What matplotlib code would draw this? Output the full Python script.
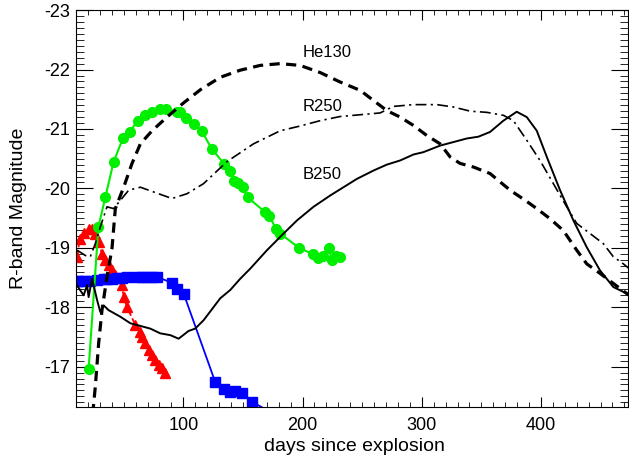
import matplotlib
matplotlib.use('Agg')
import matplotlib.pyplot as plt
from matplotlib.ticker import MultipleLocator

plt.rcParams['font.family'] = ['Liberation Sans', 'DejaVu Sans']

# observed SNe (points)
green_t = [20.6, 28.8, 34.6, 41.6, 49.5, 55.0, 61.7, 68.1, 74.0, 80.7, 85.7, 94.7, 97.5,
           102.5, 108.7, 115.7, 123.7, 134.4, 139.4, 142.2, 145.8, 149.7, 153.9, 168.7,
           172.3, 178.0, 181.3, 197.0, 209.2, 212.6, 217.6, 221.8, 224.6, 228.2, 231.6]
green_m = [-16.96, -19.35, -19.85, -20.45, -20.85, -20.95, -21.14, -21.24, -21.29, -21.34,
           -21.34, -21.29, -21.28, -21.19, -21.08, -20.96, -20.67, -20.41, -20.30, -20.12,
           -20.09, -20.02, -19.85, -19.60, -19.53, -19.31, -19.24, -19.00, -18.89, -18.82,
           -18.87, -18.99, -18.80, -18.87, -18.84]

red_t = [11.0, 13.1, 17.0, 20.6, 23.5, 26.2, 29.0, 31.8, 34.6, 37.4, 40.2, 43.0, 48.6, 50.0,
         52.8, 59.8, 64.0, 65.4, 68.1, 70.9, 73.8, 76.5, 79.3, 82.1, 84.9]
red_m = [-18.85, -19.15, -19.25, -19.31, -19.32, -19.24, -19.10, -18.90, -18.79, -18.71,
         -18.62, -18.55, -18.37, -18.17, -18.00, -17.70, -17.58, -17.50, -17.39, -17.28,
         -17.19, -17.11, -17.03, -16.97, -16.89]

blue_t = [10.5, 12.2, 17.9, 22.0, 27.7, 33.2, 36.0, 40.2, 44.4, 48.6, 52.8, 61.2, 65.4, 69.6,
          73.8, 78.0, 90.5, 94.7, 100.3, 126.8, 133.8, 139.4, 143.6, 149.2, 157.6, 185.0]
blue_m = [-18.44, -18.44, -18.44, -18.44, -18.45, -18.47, -18.48, -18.48, -18.50, -18.50,
          -18.51, -18.51, -18.51, -18.51, -18.51, -18.51, -18.41, -18.31, -18.23, -16.74,
          -16.62, -16.58, -16.59, -16.55, -16.41, -16.10]

# models
b250_t = [10.8, 16.4, 19.3, 20.6, 23.5, 27.7, 30.4, 33.2, 37.4, 47.2, 55.6, 61.2, 72.3, 80.7,
          89.1, 96.1, 104.4, 110.0, 117.0, 131.0, 139.4, 147.8, 156.2, 170.2, 184.1, 195.3,
          209.2, 223.2, 234.4, 245.6, 259.5, 270.7, 281.9, 293.0, 301.4, 315.4, 326.6, 337.8,
          347.5, 357.3, 368.5, 379.7, 388.1, 396.5, 404.9, 416.0, 427.2, 438.4, 449.5, 460.7,
          472.0, 480.0]
b250_m = [-18.37, -18.20, -18.37, -18.17, -18.48, -18.12, -17.92, -18.03, -17.95, -17.84,
          -17.73, -17.70, -17.64, -17.56, -17.53, -17.47, -17.60, -17.64, -17.78, -18.15,
          -18.29, -18.48, -18.65, -18.96, -19.24, -19.46, -19.69, -19.88, -20.02, -20.16,
          -20.30, -20.40, -20.47, -20.57, -20.61, -20.72, -20.78, -20.84, -20.87, -20.95,
          -21.14, -21.29, -21.20, -20.97, -20.53, -19.97, -19.46, -19.01, -18.62, -18.34,
          -18.23, -18.15]

he130_t = [24.0, 26.2, 29.0, 31.8, 36.0, 40.2, 43.0, 50.0, 57.0, 64.0, 73.8, 86.3, 100.3,
           114.3, 131.0, 147.8, 164.5, 181.3, 198.0, 214.8, 231.6, 248.4, 259.5, 270.7,
           281.9, 293.0, 304.3, 315.4, 323.8, 332.2, 343.3, 357.3, 374.1, 386.7, 396.5,
           407.6, 418.8, 430.0, 438.4, 449.5, 460.7, 472.0, 480.0]
he130_m = [-16.20, -16.66, -17.39, -17.95, -18.51, -18.99, -19.66, -20.02, -20.42, -20.75,
           -20.97, -21.20, -21.44, -21.66, -21.87, -21.99, -22.07, -22.10, -22.07, -21.95,
           -21.79, -21.65, -21.48, -21.31, -21.20, -21.06, -20.89, -20.75, -20.53, -20.42,
           -20.36, -20.25, -19.97, -19.80, -19.66, -19.49, -19.29, -18.96, -18.73, -18.57,
           -18.40, -18.23, -18.12]

r250_t = [10.9, 17.9, 22.0, 26.2, 30.4, 36.0, 41.6, 54.2, 64.0, 75.1, 90.5, 103.1, 117.0,
          136.6, 158.9, 181.3, 198.0, 214.8, 231.6, 248.4, 265.1, 276.3, 293.0, 312.7,
          326.6, 340.6, 354.6, 368.5, 376.9, 388.1, 399.2, 410.4, 421.6, 430.0, 441.2,
          452.3, 460.7, 469.1, 480.0]
r250_m = [-18.96, -18.87, -18.85, -19.07, -19.35, -19.69, -19.66, -19.97, -20.02, -19.94,
          -19.83, -19.91, -20.08, -20.45, -20.75, -20.97, -21.05, -21.14, -21.21, -21.24,
          -21.27, -21.38, -21.41, -21.41, -21.37, -21.30, -21.28, -21.23, -21.14, -20.81,
          -20.47, -20.08, -19.69, -19.41, -19.24, -19.07, -18.85, -18.73, -18.55]

labels = ['He130', 'R250', 'B250']
label_y = [-22.28, -21.38, -20.24]

ymajor = [-23, -22, -21, -20, -19, -18, -17]

fig = plt.figure(figsize=(6.29, 4.62), dpi=100)
ax = fig.add_axes([0.1208, 0.119, 0.8776, 0.859])

ax.plot(red_t, red_m, '--', color='red', lw=1.3, marker='^', ms=6.5, mec='red', mfc='red')
ax.plot(blue_t, blue_m, '-', color='blue', lw=1.3, marker='s', ms=6.5, mec='blue', mfc='blue')
ax.plot(green_t, green_m, '-', color='#00ee00', lw=1.5, marker='o', ms=7, mec='#00ee00', mfc='#00ee00')

ax.plot(b250_t, b250_m, '-', color='black', lw=1.4)
ax.plot(he130_t, he130_m, color='black', lw=2.3, dashes=(3.2, 2))
ax.plot(r250_t, r250_m, color='black', lw=1.2, dashes=(6.5, 2.6, 1.3, 2.6))

for lab, ly in zip(labels, label_y):
    ax.text(200.5, ly, lab, fontsize=12, va='center', ha='left')

ax.set_xlim(10, 473)
ax.set_ylim(-16.32, -23)
ax.xaxis.set_major_locator(MultipleLocator(100))
ax.xaxis.set_minor_locator(MultipleLocator(10))
ax.yaxis.set_minor_locator(MultipleLocator(0.1))
ax.set_yticks(ymajor)
ax.set_yticklabels(['%d' % v for v in ymajor])
ax.tick_params(which='both', direction='in', top=True, right=True, labelsize=13)
ax.tick_params(axis='x', which='major', length=7, pad=7)
ax.tick_params(axis='x', which='minor', length=3.5)
ax.tick_params(axis='y', which='major', length=12, pad=4)
ax.tick_params(axis='y', which='minor', length=6)
ax.set_xlabel('days since explosion', fontsize=14)
ax.set_ylabel('R-band Magnitude', fontsize=14)
ax.xaxis.set_label_coords(0.505, -0.078)
ax.yaxis.set_label_coords(-0.088, 0.5)

fig.savefig('out.png', dpi=100)
